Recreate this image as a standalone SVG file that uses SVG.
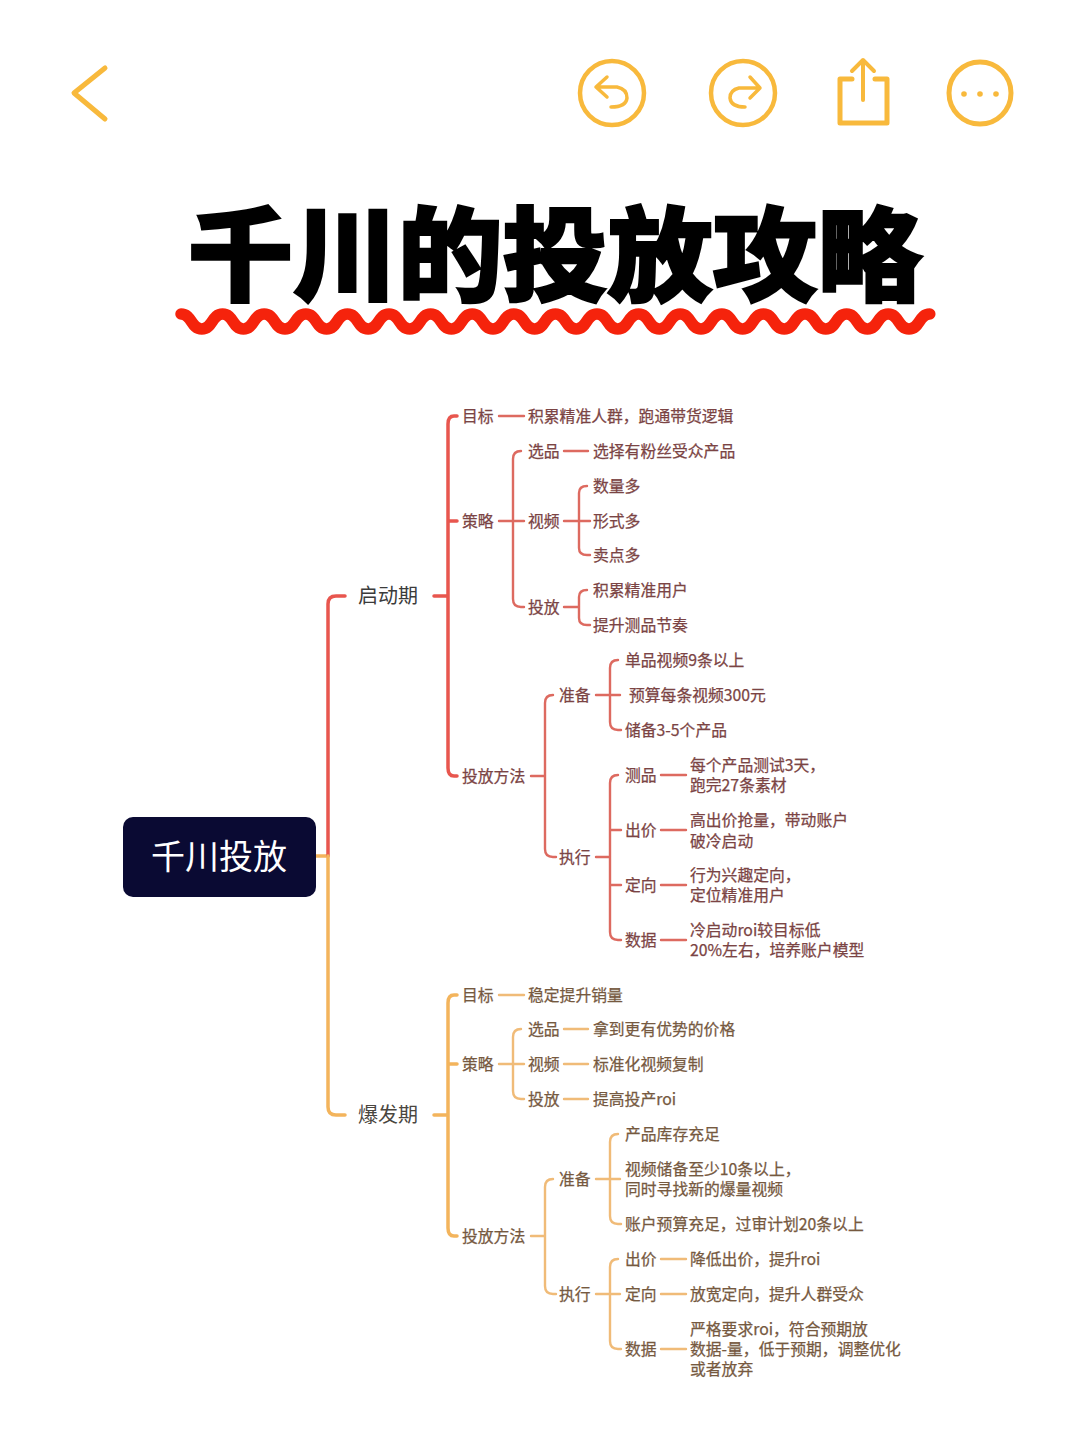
<svg xmlns="http://www.w3.org/2000/svg" width="1080" height="1440" viewBox="0 0 1080 1440">
<style>
text{font-family:"Noto Sans CJK SC","Noto Sans",sans-serif}
.ic{fill:none;stroke:#f8b93c;stroke-linecap:round;stroke-linejoin:round}
.c{fill:none;stroke-linecap:round;stroke-linejoin:round}
.r1{stroke:#e8564e;stroke-width:3.5}
.r2{stroke:#dd6a60;stroke-width:2.4}
.o1{stroke:#f3b45c;stroke-width:3.5}
.o2{stroke:#f0bb78;stroke-width:2.4}
.rm{font-size:20px;fill:#3b3b3b}
.om{font-size:20px;fill:#4a4640}
.rt{font-size:15.8px;fill:#7b4444;stroke:#7b4444;stroke-width:.25}
.ot{font-size:15.8px;fill:#76593f;stroke:#76593f;stroke-width:.25}
</style>
<rect width="1080" height="1440" fill="#fff"/>
<g id="toolbar">
<path class="ic" stroke-width="5" d="M105 68L74 93L105 119"/>
<circle class="ic" stroke-width="4.5" cx="612" cy="93" r="32"/>
<path class="ic" stroke-width="3.5" d="M607 77L596 87L607 97M596 87H617Q627 89 627 98Q626 107 611 107"/>
<circle class="ic" stroke-width="4.5" cx="743" cy="93" r="32"/>
<path class="ic" stroke-width="3.5" d="M750 77L760 88L750 98M760 88H739Q730 90 730 98Q731 107 745 107"/>
<path class="ic" stroke-width="5" d="M852 79H840V123H887V79H875"/>
<path class="ic" stroke-width="4" d="M863 100V60M852 71L863 60L874 71"/>
<circle class="ic" stroke-width="5" cx="980" cy="93" r="31"/>
<circle cx="964" cy="94" r="2.8" fill="#f8b93c"/><circle cx="980" cy="94" r="2.8" fill="#f8b93c"/><circle cx="996" cy="94" r="2.8" fill="#f8b93c"/>
</g>
<g id="title">
<text x="188" y="293" font-size="102" font-weight="900" fill="#000" stroke="#000" stroke-width="2.5" textLength="734" lengthAdjust="spacingAndGlyphs">千川的投放攻略</text>
<path fill="none" stroke="#f5230c" stroke-width="11.5" stroke-linecap="round" d="M181 314c11 0 9.8 15 20.8 15s9.8-15 20.8-15s9.8 15 20.8 15s9.8-15 20.8-15s9.8 15 20.8 15s9.8-15 20.8-15s9.8 15 20.8 15s9.8-15 20.8-15s9.8 15 20.8 15s9.8-15 20.8-15s9.8 15 20.8 15s9.8-15 20.8-15s9.8 15 20.8 15s9.8-15 20.8-15s9.8 15 20.8 15s9.8-15 20.8-15s9.8 15 20.8 15s9.8-15 20.8-15s9.8 15 20.8 15s9.8-15 20.8-15s9.8 15 20.8 15s9.8-15 20.8-15s9.8 15 20.8 15s9.8-15 20.8-15s9.8 15 20.8 15s9.8-15 20.8-15s9.8 15 20.8 15s9.8-15 20.8-15s9.8 15 20.8 15s9.8-15 20.8-15s9.8 15 20.8 15s9.8-15 20.8-15s9.8 15 20.8 15s9.8-15 20.8-15s9.8 15 20.8 15s9.8-15 20.8-15"/>
</g>
<g id="connectors">
<path class="c" stroke="#f3b45c" stroke-width="3.5" d="M316 856H328"/>
<path class="c r1" d="M328 856V604Q328 596 336 596H345"/>
<path class="c o1" d="M328 856V1107Q328 1115 336 1115H345"/>
<g class="c r1">
<path d="M434 596H448M457 416H454Q448 416 448 424V768Q448 776 454 776H457M448 521H457"/>
</g>
<g class="c r2">
<path d="M499 416H524M499 521H524M521 451Q513 451 513 459V599Q513 607 521 607H524M564 451H588M564 521H590M587 486Q579 486 579 493V548Q579 555 587 555H590M564 607H579M587 590Q579 590 579 597V618Q579 625 587 625H590"/>
<path d="M531 776H545M553 695Q545 695 545 703V849Q545 857 553 857H556M596 695H620M618 660Q610 660 610 668V722Q610 730 618 730H621M596 857H610M618 775Q610 775 610 783V932Q610 940 618 940H621M610 830H621M610 885H621M661 775H686M661 830H686M661 885H686M661 940H686"/>
</g>
<g class="c o1">
<path d="M434 1115H448M457 995H454Q448 995 448 1003V1228Q448 1236 454 1236H457M448 1064H457"/>
</g>
<g class="c o2">
<path d="M499 995H524M499 1064H524M521 1029Q513 1029 513 1037V1091Q513 1099 521 1099H524M564 1029H588M564 1064H588M564 1099H588"/>
<path d="M531 1236H545M553 1179Q545 1179 545 1187V1286Q545 1294 553 1294H556M596 1179H620M618 1134Q610 1134 610 1142V1216Q610 1224 618 1224H621M596 1294H620M618 1259Q610 1259 610 1267V1341Q610 1349 618 1349H621M661 1259H686M661 1294H686M661 1349H686"/>
</g>
</g>
<g id="root"><rect x="123" y="817" width="193" height="80" rx="10" fill="#0a0a33"/><text x="219" y="869" font-size="34" fill="#fff" text-anchor="middle">千川投放</text></g>
<g id="qidong">
<text class="rm" x="358" y="603">启动期</text>
<g class="rt">
<text x="462" y="422">目标</text><text x="528" y="422">积累精准人群，跑通带货逻辑</text>
<text x="462" y="527">策略</text>
<text x="528" y="457">选品</text><text x="593" y="457">选择有粉丝受众产品</text>
<text x="528" y="527">视频</text><text x="593" y="492">数量多</text><text x="593" y="527">形式多</text><text x="593" y="561">卖点多</text>
<text x="528" y="613">投放</text><text x="593" y="596">积累精准用户</text><text x="593" y="631">提升测品节奏</text>
<text x="462" y="782">投放方法</text>
<text x="559" y="701">准备</text><text x="625" y="666">单品视频9条以上</text><text x="629" y="701">预算每条视频300元</text><text x="625" y="736">储备3-5个产品</text>
<text x="559" y="863">执行</text>
<text x="625" y="781">测品</text><text x="690" y="771">每个产品测试3天，</text><text x="690" y="791">跑完27条素材</text>
<text x="625" y="836">出价</text><text x="690" y="826">高出价抢量，带动账户</text><text x="690" y="847">破冷启动</text>
<text x="625" y="891">定向</text><text x="690" y="881">行为兴趣定向，</text><text x="690" y="901">定位精准用户</text>
<text x="625" y="946">数据</text><text x="690" y="936">冷启动roi较目标低</text><text x="690" y="956">20%左右，培养账户模型</text>
</g>
</g>
<g id="baofa">
<text class="om" x="358" y="1122">爆发期</text>
<g class="ot">
<text x="462" y="1001">目标</text><text x="528" y="1001">稳定提升销量</text>
<text x="462" y="1070">策略</text>
<text x="528" y="1035">选品</text><text x="593" y="1035">拿到更有优势的价格</text>
<text x="528" y="1070">视频</text><text x="593" y="1070">标准化视频复制</text>
<text x="528" y="1105">投放</text><text x="593" y="1105">提高投产roi</text>
<text x="462" y="1242">投放方法</text>
<text x="559" y="1185">准备</text><text x="625" y="1140">产品库存充足</text><text x="625" y="1175">视频储备至少10条以上，</text><text x="625" y="1195">同时寻找新的爆量视频</text><text x="625" y="1230">账户预算充足，过审计划20条以上</text>
<text x="559" y="1300">执行</text>
<text x="625" y="1265">出价</text><text x="690" y="1265">降低出价，提升roi</text>
<text x="625" y="1300">定向</text><text x="690" y="1300">放宽定向，提升人群受众</text>
<text x="625" y="1355">数据</text><text x="690" y="1335">严格要求roi，符合预期放</text><text x="690" y="1355">数据-量，低于预期，调整优化</text><text x="690" y="1375">或者放弃</text>
</g>
</g>
</svg>
